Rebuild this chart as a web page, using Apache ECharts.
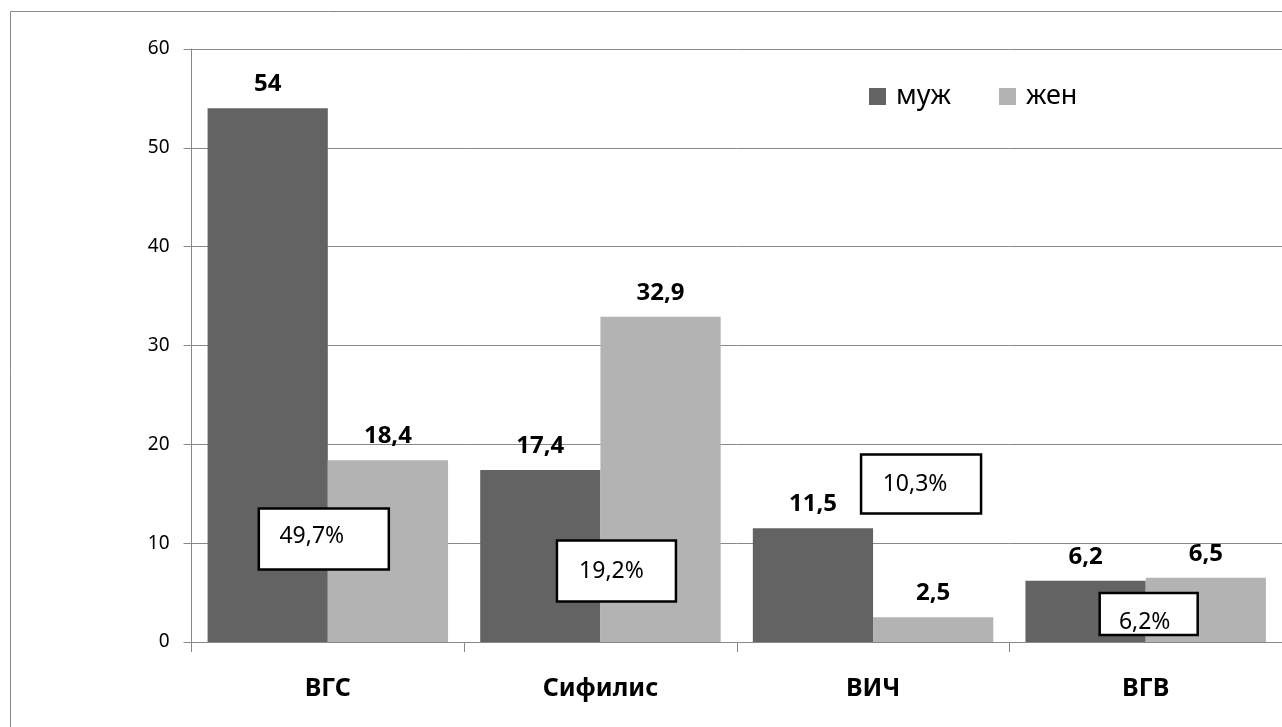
<!DOCTYPE html>
<html>
<head>
<meta charset="utf-8">
<style>
  html, body { margin: 0; padding: 0; background: #fff; }
  #chart { width: 1282px; height: 727px; }
</style>
<script src="https://cdn.jsdelivr.net/npm/echarts@6/dist/echarts.min.js"></script>
</head>
<body>
<div id="chart"></div>
<script>
// Infections by sex
const categories = ['ВГС', 'Сифилис', 'ВИЧ', 'ВГВ'];
const seriesNames = ['муж', 'жен'];
const maleValues = [54, 17.4, 11.5, 6.2];
const femaleValues = [18.4, 32.9, 2.5, 6.5];
// share of each infection, shown in framed notes
const shareLabels = ['49,7%', '19,2%', '10,3%', '6,2%'];
const yMin = 0, yMax = 60, yStep = 10;

const FONT = '"Noto Sans", "DejaVu Sans", sans-serif';
const fmt = v => String(v).replace('.', ',');

// note frames: offset of the frame centre from the category centre / zero line,
// frame size, and offset of the text inside the frame
const noteBoxes = [
  { dx: -4,  dy: -103, w: 130, h: 61, tx: -12, ty: -3 },
  { dx: 16,  dy: -71,  w: 119, h: 61, tx: -5,  ty: 0 },
  { dx: 48,  dy: -158, w: 120, h: 59, tx: -6,  ty: 0 },
  { dx: 3,   dy: -28,  w: 98,  h: 42, tx: -4,  ty: 8 }
];

const chart = echarts.init(document.getElementById('chart'), null, { renderer: 'canvas' });

const barLabel = {
  show: true,
  position: 'top',
  distance: 12,
  color: '#000',
  fontFamily: FONT,
  fontSize: 24,
  fontWeight: 'bold',
  formatter: p => fmt(p.value)
};

chart.setOption({
  animation: false,
  backgroundColor: '#fff',
  graphic: [{
    type: 'rect',
    shape: { x: 10.5, y: 11.5, width: 1400, height: 900 },
    style: { fill: 'none', stroke: '#8a8a8a', lineWidth: 1 },
    silent: true,
    z: -10
  }],
  legend: {
    data: seriesNames,
    left: 864,
    top: 78,
    icon: 'rect',
    itemWidth: 17,
    itemHeight: 17,
    itemGap: 48,
    textStyle: { fontFamily: FONT, fontSize: 27, color: '#000', padding: [0, 0, 0, 5] }
  },
  grid: { left: 191.5, top: 49, right: -3, bottom: 85, containLabel: false },
  xAxis: {
    type: 'category',
    data: categories,
    axisLine: { lineStyle: { color: '#888', width: 1 } },
    axisTick: { show: true, length: 10, lineStyle: { color: '#888' } },
    axisLabel: {
      margin: 34,
      color: '#000',
      fontFamily: FONT,
      fontSize: 25,
      fontWeight: 'bold'
    }
  },
  yAxis: {
    type: 'value',
    min: yMin,
    max: yMax,
    interval: yStep,
    axisLine: { show: true, lineStyle: { color: '#888', width: 1 } },
    axisTick: { show: true, length: 8, lineStyle: { color: '#888' } },
    axisLabel: { margin: 22, color: '#000', fontFamily: FONT, fontSize: 19 },
    splitLine: { show: true, lineStyle: { color: '#888', width: 1 } }
  },
  series: [
    {
      name: seriesNames[0],
      type: 'bar',
      data: maleValues,
      barGap: '0%',
      barCategoryGap: '11.8%',
      itemStyle: { color: '#636363' },
      label: barLabel
    },
    {
      name: seriesNames[1],
      type: 'bar',
      data: femaleValues,
      barGap: '0%',
      barCategoryGap: '11.8%',
      itemStyle: { color: '#b3b3b3' },
      label: barLabel
    },
    {
      name: 'share',
      type: 'custom',
      z: 10,
      clip: false,
      data: shareLabels.map((t, i) => [i, 0]),
      renderItem: function (params, api) {
        const i = params.dataIndex;
        const b = noteBoxes[i];
        const base = api.coord([api.value(0), 0]);
        const cx = base[0] + b.dx;
        const cy = base[1] + b.dy;
        return {
          type: 'group',
          children: [
            {
              type: 'rect',
              shape: { x: cx - b.w / 2, y: cy - b.h / 2, width: b.w, height: b.h },
              style: { fill: '#fff', stroke: '#000', lineWidth: 2.5 }
            },
            {
              type: 'text',
              style: {
                text: shareLabels[i],
                x: cx + b.tx,
                y: cy + b.ty,
                fill: '#000',
                font: '23px ' + FONT,
                align: 'center',
                verticalAlign: 'middle'
              }
            }
          ]
        };
      }
    }
  ]
});
</script>
</body>
</html>
